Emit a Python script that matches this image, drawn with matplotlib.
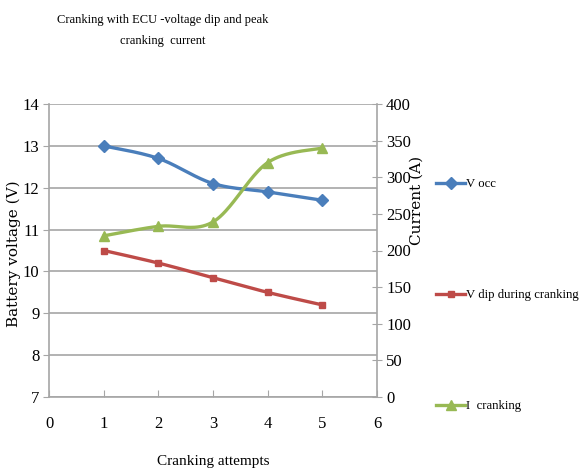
import numpy as np
import matplotlib
matplotlib.use("Agg")
import matplotlib.pyplot as plt
from matplotlib.lines import Line2D

attempts = [1, 2, 3, 4, 5]
v_occ = [13.0, 12.7, 12.1, 11.9, 11.7]
v_dip = [10.5, 10.2, 9.85, 9.5, 9.2]
i_crank = [220, 233, 239, 320, 340]

labels = ["V occ", "V dip during cranking", "I  cranking"]
colors = ["#4A7EBB", "#BE4B48", "#98B954"]

plt.rcParams['font.family'] = ['Liberation Serif', 'DejaVu Serif']

def smooth(x, y, n=40):
    x = np.asarray(x, float); y = np.asarray(y, float)
    P = np.column_stack([x, y])
    P = np.vstack([P[0], P, P[-1]])
    out = []
    for i in range(1, len(P) - 2):
        p0, p1, p2, p3 = P[i - 1], P[i], P[i + 1], P[i + 2]
        c1 = p1 + (p2 - p0) / 6.0
        c2 = p2 - (p3 - p1) / 6.0
        t = np.linspace(0, 1, n)[:, None]
        seg = ((1 - t) ** 3) * p1 + 3 * ((1 - t) ** 2) * t * c1 + 3 * (1 - t) * t ** 2 * c2 + t ** 3 * p2
        out.append(seg if i == 1 else seg[1:])
    S = np.vstack(out)
    return S[:, 0], S[:, 1]

fig = plt.figure(figsize=(5.86, 4.70), dpi=100)
ax = fig.add_axes([49/586, 1-397/470, 328/586, 293/470])
ax2 = ax.twinx()

grid_c = "#A6A6A6"
ax.set_xlim(0, 6)
ax.set_ylim(7, 14)
ax.set_xticks(range(0, 7))
ax.set_yticks(range(7, 15))
ax2.set_ylim(0, 400)
ax2.set_yticks(range(0, 401, 50))
ax.yaxis.grid(True, color=grid_c, lw=1.2)
ax.set_axisbelow(True)

for a in (ax, ax2):
    a.spines['top'].set_visible(False)
    for s in ('left', 'right', 'bottom'):
        a.spines[s].set_color(grid_c)
        a.spines[s].set_linewidth(1.2)
ax.spines['right'].set_visible(False)
ax2.spines['left'].set_visible(False)
ax2.spines['bottom'].set_visible(False)

ax.tick_params(axis='x', direction='in', length=5, color=grid_c, labelsize=12, pad=14)
ax.tick_params(axis='y', direction='out', length=4, color=grid_c, labelsize=12, pad=3)
ax2.tick_params(axis='y', direction='inout', length=7, color=grid_c, labelsize=12, pad=3)

lw = 2.4
handles = []
for vals, col, mk, ms, a in [(v_occ, colors[0], 'D', 6, ax), (v_dip, colors[1], 's', 5, ax), (i_crank, colors[2], '^', 7, ax2)]:
    sx, sy = smooth(attempts, vals)
    a.plot(sx, sy, color=col, lw=lw, solid_capstyle='round', zorder=3)
    a.plot(attempts, vals, linestyle='none', marker=mk, ms=ms, color=col, zorder=4)
    handles.append(Line2D([0], [0], color=col, lw=lw, marker=mk, ms=ms))

ax.set_xlabel("Cranking attempts", fontsize=11, labelpad=16)
ax.set_ylabel("Battery voltage (V)", fontsize=11, family=['DejaVu Serif'])
ax.yaxis.set_label_coords(-0.085, 0.49)
ax2.set_ylabel("Current (A)", fontsize=11, rotation=90, family=['DejaVu Serif'])
ax2.yaxis.set_label_coords(1.10, 0.672)

fig.text(0.278, 0.97, "Cranking with ECU -voltage dip and peak\ncranking  current",
         ha='center', va='top', fontsize=9, linespacing=1.95)

fig.legend(handles, labels, loc='upper left', bbox_to_anchor=(431/586, 1-173/470),
           frameon=False, fontsize=9.2, labelspacing=7.75, handlelength=2.3,
           handletextpad=0.05, borderaxespad=0)

fig.savefig("out.png", dpi=100)
